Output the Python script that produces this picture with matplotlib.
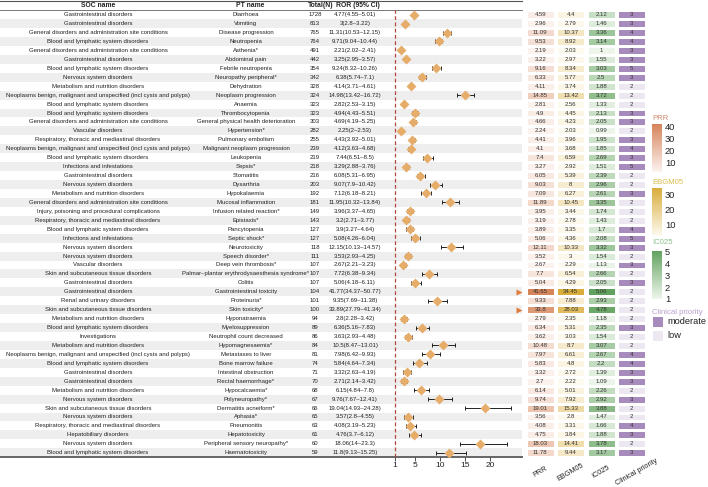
import numpy as np
import matplotlib
matplotlib.use('Agg')
import matplotlib.pyplot as plt
from matplotlib.colors import LinearSegmentedColormap, ListedColormap, Normalize
from matplotlib.patches import Rectangle

plt.rcParams['font.family'] = ['Liberation Sans', 'DejaVu Sans']

# SOC names
GI = 'Gastrointestinal disorders'
GEN = 'General disorders and administration site conditions'
BLD = 'Blood and lymphatic system disorders'
NRV = 'Nervous system disorders'
MET = 'Metabolism and nutrition disorders'
NEO = 'Neoplasms benign, malignant and unspecified (incl cysts and polyps)'
VAS = 'Vascular disorders'
RES = 'Respiratory, thoracic and mediastinal disorders'
INF = 'Infections and infestations'
INJ = 'Injury, poisoning and procedural complications'
SKN = 'Skin and subcutaneous tissue disorders'
REN = 'Renal and urinary disorders'
INV = 'Investigations'
HEP = 'Hepatobiliary disorders'

soc = [GI, GI, GEN, BLD, GEN, GI, BLD, NRV, MET, NEO,
       BLD, BLD, GEN, VAS, RES, NEO, BLD, INF, GI, NRV,
       MET, GEN, INJ, RES, BLD, INF, NRV, NRV, VAS, SKN,
       GI, GI, REN, SKN, MET, BLD, INV, MET, NEO, BLD,
       GI, GI, MET, NRV, SKN, NRV, RES, HEP, NRV, BLD]

pt = ['Diarrhoea', 'Vomiting', 'Disease progression', 'Neutropenia', 'Asthenia*',
      'Abdominal pain', 'Febrile neutropenia', 'Neuropathy peripheral*', 'Dehydration',
      'Neoplasm progression', 'Anaemia', 'Thrombocytopenia',
      'General physical health deterioration', 'Hypertension*', 'Pulmonary embolism',
      'Malignant neoplasm progression', 'Leukopenia', 'Sepsis*', 'Stomatitis', 'Dysarthria',
      'Hypokalaemia', 'Mucosal inflammation', 'Infusion related reaction*', 'Epistaxis*',
      'Pancytopenia', 'Septic shock*', 'Neurotoxicity', 'Speech disorder*',
      'Deep vein thrombosis*', 'Palmar–plantar erythrodysaesthesia syndrome*', 'Colitis',
      'Gastrointestinal toxicity', 'Proteinuria*', 'Skin toxicity*', 'Hyponatraemia',
      'Myelosuppression', 'Neutrophil count decreased', 'Hypomagnesaemia*',
      'Metastases to liver', 'Bone marrow failure', 'Intestinal obstruction',
      'Rectal haemorrhage*', 'Hypocalcaemia*', 'Polyneuropathy*', 'Dermatitis acneiform*',
      'Aphasia*', 'Pneumonitis', 'Hepatotoxicity', 'Peripheral sensory neuropathy*',
      'Haematotoxicity']

total = [1728, 813, 765, 764, 491, 442, 354, 342, 328, 324,
         323, 323, 303, 282, 255, 239, 219, 218, 216, 203,
         192, 181, 149, 143, 127, 127, 118, 111, 107, 107,
         107, 104, 101, 100, 94, 89, 86, 84, 81, 74,
         71, 70, 68, 67, 66, 65, 63, 61, 60, 59]

ror = [4.77, 3, 11.31, 9.71, 2.21, 3.25, 9.24, 6.38, 4.14, 14.98,
       2.82, 4.94, 4.69, 2.25, 4.43, 4.12, 7.44, 3.29, 6.08, 9.07,
       7.12, 11.95, 3.96, 3.2, 3.9, 5.08, 12.15, 3.53, 2.67, 7.72,
       5.06, 41.77, 9.35, 33.89, 2.8, 6.36, 3.63, 10.5, 7.98, 5.84,
       3.32, 2.71, 6.15, 9.76, 19.04, 3.57, 4.08, 4.76, 18.06, 11.8]
ror_lo = [4.55, 2.8, 10.53, 9.04, 2.02, 2.95, 8.32, 5.74, 3.71, 13.42,
          2.53, 4.43, 4.19, 2, 3.92, 3.63, 6.51, 2.88, 5.31, 7.9,
          6.18, 10.32, 3.37, 2.71, 3.27, 4.26, 10.13, 2.93, 2.21, 6.38,
          4.18, 34.37, 7.69, 27.79, 2.28, 5.16, 2.93, 8.47, 6.42, 4.64,
          2.63, 2.14, 4.84, 7.67, 14.93, 2.8, 3.19, 3.7, 14, 9.13]
ror_hi = [5.01, 3.22, 12.15, 10.44, 2.41, 3.57, 10.26, 7.1, 4.61, 16.72,
          3.15, 5.51, 5.25, 2.53, 5.01, 4.68, 8.5, 3.76, 6.95, 10.42,
          8.21, 13.84, 4.65, 3.77, 4.64, 6.04, 14.57, 4.25, 3.23, 9.34,
          6.11, 50.77, 11.38, 41.34, 3.42, 7.83, 4.48, 13.01, 9.93, 7.34,
          4.19, 3.42, 7.8, 12.41, 24.28, 4.55, 5.23, 6.12, 23.3, 15.25]

prr = [4.59, 2.96, 11.09, 9.53, 2.19, 3.22, 9.16, 6.33, 4.11, 14.85,
       2.81, 4.9, 4.66, 2.24, 4.41, 4.1, 7.4, 3.27, 6.05, 9.03,
       7.09, 11.89, 3.95, 3.19, 3.89, 5.06, 12.11, 3.52, 2.67, 7.7,
       5.04, 41.65, 9.33, 33.8, 2.79, 6.34, 3.62, 10.48, 7.97, 5.83,
       3.32, 2.7, 6.14, 9.74, 19.01, 3.56, 4.08, 4.75, 18.03, 11.78]
ebgm05 = [4.4, 2.79, 10.37, 8.92, 2.03, 2.97, 8.34, 5.77, 3.74, 13.42,
          2.56, 4.45, 4.23, 2.03, 3.96, 3.68, 6.59, 2.92, 5.39, 8,
          6.27, 10.45, 3.44, 2.78, 3.35, 4.36, 10.33, 3, 2.29, 6.54,
          4.29, 34.45, 7.88, 28.03, 2.35, 5.31, 3.03, 8.7, 6.61, 4.8,
          2.72, 2.22, 5.01, 7.92, 15.33, 2.8, 3.31, 3.84, 14.41, 9.44]
ic025 = [2.12, 1.46, 3.36, 3.14, 1, 1.55, 3.03, 2.5, 1.88, 3.72,
         1.33, 2.13, 2.05, 0.99, 1.95, 1.85, 2.69, 1.51, 2.39, 2.96,
         2.61, 3.35, 1.74, 1.43, 1.7, 2.08, 3.32, 1.54, 1.13, 2.66,
         2.05, 5.06, 2.93, 4.78, 1.18, 2.35, 1.54, 3.07, 2.67, 2.2,
         1.39, 1.09, 2.26, 2.92, 3.88, 1.47, 1.66, 1.88, 3.78, 3.17]
priority = [3, 3, 4, 4, 3, 3, 5, 3, 2, 2,
            2, 3, 3, 2, 3, 4, 3, 5, 2, 2,
            3, 2, 2, 2, 4, 5, 3, 2, 3, 2,
            3, 2, 2, 2, 2, 3, 2, 2, 4, 4,
            3, 3, 2, 3, 2, 2, 4, 3, 2, 3]

ror_txt = [f"{r:g}({lo:g}–{hi:g})" for r, lo, hi in zip(ror, ror_lo, ror_hi)]
n = len(pt)
rows = np.arange(n)

W, H = 708, 487
fig = plt.figure(figsize=(W / 100, H / 100), dpi=100)
top_px, bot_px = 10.2, 457.2
ax_b = 1 - bot_px / H
ax_h = (bot_px - top_px) / H
txt_c = '#222222'
fs = 4.35

# ---- table part ----
tab = fig.add_axes([0, ax_b, 522 / W, ax_h])
tab.set_xlim(0, 522)
tab.set_ylim(n - 0.5, -0.5)
tab.axis('off')
for i in rows[1::2]:
    tab.axhspan(i - 0.5, i + 0.5, color='#eeeeee', lw=0)

for i in rows:
    tab.text(98, i, soc[i], ha='center', va='center', fontsize=fs, color=txt_c)
    tab.text(246, i, pt[i], ha='center', va='center', fontsize=fs, color=txt_c)
    tab.text(315, i, str(total[i]), ha='center', va='center', fontsize=fs, color=txt_c)
    tab.text(355, i, ror_txt[i], ha='center', va='center', fontsize=fs, color=txt_c)

hdr_y = -1.08
for x, s in [(98, 'SOC name'), (250, 'PT name'), (321, 'Total(N)'), (358, 'ROR (95% CI)')]:
    tab.text(x, hdr_y, s, ha='center', va='center', fontsize=4.9, fontweight='bold', color=txt_c)
tab.plot([0, 522], [-1.55, -1.55], color='#555555', lw=0.8, clip_on=False)
tab.plot([0, 522], [-0.5, -0.5], color='#777777', lw=0.7, clip_on=False)
tab.plot([0, 522], [n - 0.5, n - 0.5], color='#666666', lw=1.4, clip_on=False)

# ---- forest part ----
fo = fig.add_axes([335 / W, ax_b, 187 / W, ax_h])
fo.set_xlim(-11, 26.4)
fo.set_ylim(n - 0.5, -0.5)
fo.patch.set_alpha(0)
for s in fo.spines.values():
    s.set_visible(False)
fo.set_yticks([])
fo.set_xticks([1, 5, 10, 15, 20])
fo.tick_params(axis='x', length=3, width=0.6, pad=0.5, labelsize=6, color='#333333', labelcolor=txt_c)
fo.axvline(1, color='#b5473f', lw=0.9, ls=(0, (3, 2)))
xmax = fo.get_xlim()[1]
for i in rows:
    if ror[i] > xmax:
        fo.plot(xmax - 0.7, i, marker='>', color='#e07b39', ms=4.5, mec='none', clip_on=False)
    else:
        fo.errorbar(ror[i], i, xerr=[[ror[i] - ror_lo[i]], [ror_hi[i] - ror[i]]], fmt='none',
                    ecolor='#222222', elinewidth=0.7, capsize=1.2, capthick=0.7)
        fo.plot(ror[i], i, marker='D', ms=5.5, color='#e6ad6a', mec='none', zorder=3)

# ---- heatmap part ----
hm = fig.add_axes([525 / W, ax_b, 122 / W, ax_h])
hm.set_xlim(-0.5, 3.5)
hm.set_ylim(n - 0.5, -0.5)
hm.axis('off')

cm_prr = LinearSegmentedColormap.from_list('prr', ['#fcf3ef', '#d6845a'])
cm_ebgm = LinearSegmentedColormap.from_list('ebgm', ['#fdfaf0', '#d9ad3c'])
cm_ic = LinearSegmentedColormap.from_list('ic', ['#eef6ec', '#62a25f'])
cm_cp = ListedColormap(['#ede7f1', '#a78bbd'])
nm_prr = Normalize(min(prr), max(prr))
nm_ebgm = Normalize(min(ebgm05), max(ebgm05))
nm_ic = Normalize(min(ic025), max(ic025))
cp_cat = [1 if p >= 3 else 0 for p in priority]

heat_cols = [(prr, prr, cm_prr, nm_prr), (ebgm05, ebgm05, cm_ebgm, nm_ebgm),
             (ic025, ic025, cm_ic, nm_ic), (cp_cat, priority, cm_cp, Normalize(0, 1))]
ybins = np.arange(n + 1) - 0.5
for j, (cvals, labels, cmap, norm) in enumerate(heat_cols):
    hm.pcolormesh([j - 0.48, j + 0.48], ybins, np.array(cvals, dtype=float).reshape(-1, 1),
                  cmap=cmap, norm=norm, edgecolors='white', linewidth=0.8)
    for i in rows:
        hm.text(j, i, f"{labels[i]:g}", ha='center', va='center', fontsize=4.3, color='#333333')

lab_y = (472 - top_px) / ((bot_px - top_px) / n) - 0.5
for j, lab in enumerate(['PRR', 'EBGM05', 'IC025', 'Clinical priority']):
    hm.text(j + (0.15 if j == 3 else 0), lab_y, lab, rotation=30, ha='center', va='center',
            rotation_mode='anchor', fontsize=5.2, color=txt_c, clip_on=False)

# ---- legends ----
def add_cbar(y0, y1, ty, title, tcolor, cmap, norm, ticks):
    cax = fig.add_axes([652 / W, 1 - y1 / H, 10 / W, (y1 - y0) / H])
    cb = fig.colorbar(plt.cm.ScalarMappable(norm=norm, cmap=cmap), cax=cax, ticks=ticks)
    cb.outline.set_visible(False)
    cax.tick_params(length=0, labelsize=6.7, pad=2, labelcolor=txt_c)
    fig.text(652 / W, 1 - ty / H, title, color=tcolor, fontsize=5.6, ha='left', va='center')

add_cbar(124, 172, 118, 'PRR', '#d08b6f', cm_prr, nm_prr, [10, 20, 30, 40])
add_cbar(188, 236, 182, 'EBGM05', '#dcbc4c', cm_ebgm, nm_ebgm, [10, 20, 30])
add_cbar(251, 299, 243, 'IC025', '#8dc08a', cm_ic, nm_ic, [1, 2, 3, 4, 5])

fig.text(652 / W, 1 - 312 / H, 'Clinical priority', color='#b9a0cc', fontsize=5.6, ha='left', va='center')
for k, (lab, col) in enumerate([('moderate', '#a78bbd'), ('low', '#ede7f1')]):
    y_top = 317 + k * 14
    fig.add_artist(Rectangle((653 / W, 1 - (y_top + 10) / H), 10 / W, 10 / H,
                             transform=fig.transFigure, facecolor=col, edgecolor='none'))
    fig.text(667 / W, 1 - (y_top + 5) / H, lab, fontsize=6.7, color=txt_c, ha='left', va='center')

fig.savefig('out.png', dpi=100)
